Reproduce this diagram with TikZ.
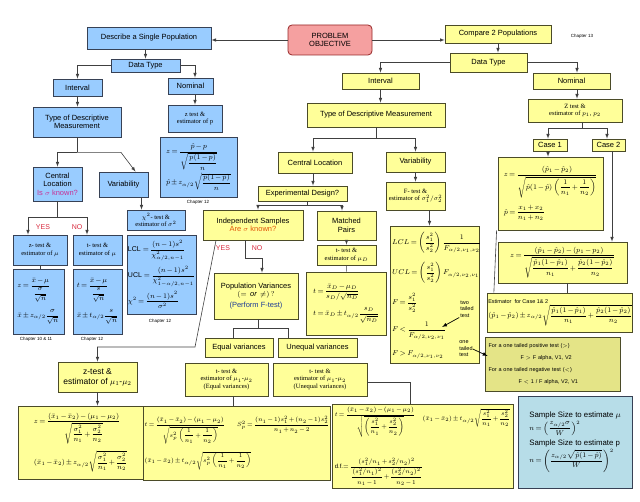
\documentclass[tikz,border=0pt]{standalone}
\usepackage{amsmath}
\usepackage{fontspec}
\setmainfont{Liberation Sans}
\newfontfamily\tms{Liberation Serif}
\medmuskip=2mu plus 1mu minus 1mu
\thickmuskip=3mu plus 2mu
\definecolor{bluefill}{RGB}{153,204,255}
\definecolor{blueline}{RGB}{55,65,85}
\definecolor{yelfill}{RGB}{255,255,153}
\definecolor{yelline}{RGB}{75,75,40}
\definecolor{pofill}{RGB}{245,160,160}
\definecolor{poline}{RGB}{150,40,40}
\definecolor{onefill}{RGB}{228,228,135}
\definecolor{ssfill}{RGB}{183,221,232}
\definecolor{pinkq}{RGB}{200,50,150}
\definecolor{orangeq}{RGB}{225,85,10}
\definecolor{yesno}{RGB}{215,40,60}
\definecolor{ftest}{RGB}{30,60,150}
\begin{document}
\begin{tikzpicture}[x=1pt,y=-1pt,>=latex,
  font=\fontsize{7.5}{8.5}\selectfont,
  sz/.style 2 args={minimum width=#1pt,minimum height=#2pt},
  blu/.style={draw=blueline,fill=bluefill,line width=0.8pt,align=center,inner sep=1pt},
  yel/.style={draw=yelline,fill=yelfill,line width=0.8pt,align=center,inner sep=1pt},
  sml/.style={font=\tms\fontsize{6.5}{7.5}\selectfont},
  fm/.style={font=\fontsize{7}{8}\selectfont},
  fs/.style={font=\fontsize{6}{7}\selectfont},
  fr/.style={anchor=west,inner sep=0pt,font=\tms\fontsize{7}{8}\selectfont},
  chap/.style={font=\fontsize{4.5}{5}\selectfont},
  yn/.style={text=yesno,font=\fontsize{7}{8}\selectfont},
  con/.style={draw=black!75,line width=0.6pt}]
\useasboundingbox (0,0) rectangle (640,502);

% top
\node[draw=poline,fill=pofill,line width=0.8pt,rounded corners=4pt,align=center,sz={84}{30}] (po) at (330,40) {PROBLEM\\OBJECTIVE};
\node[blu,sz={124}{22}] (desc) at (149,38) {Describe a Single Population};
\node[yel,sz={106}{18}] (cmp) at (498,34) {Compare 2 Populations};
\node[chap] (ch13) at (582,36) {Chapter 13};

% single population
\node[blu,sz={69}{13}] (dt1) at (145.5,65.5) {Data Type};
\node[blu,sz={49}{17}] (int1) at (77.5,87.5) {Interval};
\node[blu,sz={45}{16}] (nom1) at (190.5,86) {Nominal};
\node[blu,sz={88}{30}] (tdm1) at (77,122) {Type of Descriptive\\Measurement};
\node[blu,sml,sz={54}{27}] (zp) at (195,118.5) {z test \&\\estimator of p};
\node[blu,fm,sz={77}{60},align=left] (zpf) at (198.5,167) {$z=\dfrac{\hat p-p}{\sqrt{\dfrac{p(1-p)}{n}}}$\\[2pt]$\hat p\pm z_{\alpha/2}\sqrt{\dfrac{\hat p(1-\hat p)}{n}}$};
\node[chap] (ch12a) at (198,202) {Chapter 12};
\node[blu,sz={49}{34}] (cl1) at (57.5,184) {Central\\Location\\\textcolor{pinkq}{Is $\sigma$ known?}};
\node[blu,sz={49}{25}] (var1) at (123.5,184.5) {Variability};
\node[blu,sml,sz={58}{20}] (chi) at (156,220) {$\chi^2$- test \&\\estimator of $\sigma^2$};
\node[blu,fm,sz={69}{79},align=left] (chif) at (161.5,274.5) {LCL $=\dfrac{(n-1)s^2}{\chi^2_{\alpha/2,n-1}}$\\[4pt]UCL $=\dfrac{(n-1)s^2}{\chi^2_{1-\alpha/2,n-1}}$\\[4pt]$\chi^2=\dfrac{(n-1)s^2}{\sigma^2}$};
\node[chap] (ch12b) at (160,321) {Chapter 12};
\node[blu,sml,sz={54}{30}] (zm) at (40,250) {z- test \&\\estimator of $\mu$};
\node[blu,sml,sz={49}{30}] (tm) at (97.5,250) {t- test \&\\estimator of $\mu$};
\node[blu,fm,sz={51}{65},align=left] (zmf) at (38.5,301.5) {$z=\dfrac{\bar x-\mu}{\dfrac{\sigma}{\sqrt n}}$\\[6pt]$\bar x\pm z_{\alpha/2}\dfrac{\sigma}{\sqrt n}$};
\node[blu,fm,sz={49}{65},align=left] (tmf) at (97.5,301.5) {$t=\dfrac{\bar x-\mu}{\dfrac{s}{\sqrt n}}$\\[6pt]$\bar x\pm t_{\alpha/2}\dfrac{s}{\sqrt n}$};
\node[chap] (ch1011) at (36,339) {Chapter 10 \& 11};
\node[chap] (ch12c) at (92,339) {Chapter 12};

% two populations
\node[yel,sz={77}{19}] (dt2) at (488.5,62.5) {Data Type};
\node[yel,sz={77}{16}] (int2) at (380.5,81) {Interval};
\node[yel,sz={77}{16}] (nom2) at (571.5,81) {Nominal};
\node[yel,sml,sz={94}{23}] (ztp) at (575,110.5) {Z test \&\\estimator of $p_1$, $p_2$};
\node[yel,sz={138}{24}] (tdm2) at (376,115) {Type of Descriptive Measurement};
\node[yel,sz={74}{21}] (cl2) at (315,162.5) {Central Location};
\node[yel,sz={59}{20}] (var2) at (415.5,162) {Variability};
\node[yel,sml,sz={59}{28}] (ft) at (415.5,196) {F- test \&\\estimator of $\sigma_1^2/\sigma_2^2$};
\node[yel,sz={89}{15}] (exd) at (302.5,193.5) {Experimental Design?};
\node[yel,sz={100}{30}] (ind) at (253,225) {Independent Samples\\\textcolor{orangeq}{Are $\sigma$ known?}};
\node[yel,sz={59}{29}] (mp) at (346.5,225.5) {Matched\\Pairs};
\node[yel,sml,sz={59}{20}] (tmd) at (346.5,255) {t- test \&\\estimator of $\mu_D$};
\node[yel,fm,sz={80}{63},align=left] (tmdf) at (346,303.5) {$t=\dfrac{\bar x_D-\mu_D}{s_D/\sqrt{n_D}}$\\[6pt]$t=\bar x_D\pm t_{\alpha/2}\dfrac{s_D}{\sqrt{n_D}}$};
\node[yel,sz={84}{46}] (pv) at (256,296) {Population Variances\\$(=\ \mathit{or}\ \neq)\,?$\\[2pt]\textcolor{ftest}{(Perform F-test)}};
\node[yel,sz={68}{19}] (eqv) at (239,347.5) {Equal variances};
\node[yel,sz={79}{19}] (uneqv) at (317.5,347.5) {Unequal variances};
\node[yel,sml,sz={83}{33}] (teq) at (226.5,379.5) {t- test \&\\estimator of $\mu_1$-$\mu_2$\\(Equal variances)};
\node[yel,sml,sz={94}{33}] (tuneq) at (320,379.5) {t- test \&\\estimator of $\mu_1$-$\mu_2$\\(Unequal variances)};
\node[yel,sz={79}{30},font=\fontsize{8.5}{10}\selectfont] (zmu) at (97.5,377) {z-test \&\\estimator of $\mu_1$-$\mu_2$};
\node[yel,fm,sz={125}{73},align=left] (zmuf) at (80.5,442.5) {$z=\dfrac{(\bar x_1-\bar x_2)-(\mu_1-\mu_2)}{\sqrt{\dfrac{\sigma_1^2}{n_1}+\dfrac{\sigma_2^2}{n_2}}}$\\[6pt]$(\bar x_1-\bar x_2)\pm z_{\alpha/2}\sqrt{\dfrac{\sigma_1^2}{n_1}+\dfrac{\sigma_2^2}{n_2}}$};
\node[yel,fs,sz={182}{74},align=left] (teqf) at (237,443) {$t=\dfrac{(\bar x_1-\bar x_2)-(\mu_1-\mu_2)}{\sqrt{s_p^2\left(\dfrac{1}{n_1}+\dfrac{1}{n_2}\right)}}\qquad S_p^2=\dfrac{(n_1-1)s_1^2+(n_2-1)s_2^2}{n_1+n_2-2}$\\[6pt]$(\bar x_1-\bar x_2)\pm t_{\alpha/2}\sqrt{s_p^2\left(\dfrac{1}{n_1}+\dfrac{1}{n_2}\right)}$};
\node[yel,sz={181}{84}] (tuneqf) at (422.5,446) {};
\node[anchor=north west,fs,inner sep=1pt] (tuq1) at ([shift={(2pt,-2pt)}]tuneqf.north west) {$t=\dfrac{(\bar x_1-\bar x_2)-(\mu_1-\mu_2)}{\sqrt{\left(\dfrac{s_1^2}{n_1}+\dfrac{s_2^2}{n_2}\right)}}$};
\node[anchor=north east,fs,inner sep=1pt] (tuq2) at ([shift={(-2pt,-4pt)}]tuneqf.north east) {$(\bar x_1-\bar x_2)\pm t_{\alpha/2}\sqrt{\dfrac{s_1^2}{n_1}+\dfrac{s_2^2}{n_2}}$};
\node[anchor=south west,fs,inner sep=1pt] (tuq3) at ([shift={(2pt,2pt)}]tuneqf.south west) {d.f.$=\dfrac{(s_1^2/n_1+s_2^2/n_2)^2}{\dfrac{(s_1^2/n_1)^2}{n_1-1}+\dfrac{(s_2^2/n_2)^2}{n_2-1}}$};
\node[draw=blueline,fill=ssfill,line width=0.8pt,align=left,inner sep=2pt,sz={114}{92},font=\fontsize{7.8}{9}\selectfont] (ss) at (575,442) {Sample Size to estimate $\mu$\\[1pt]{\fontsize{7.5}{8}\selectfont$n=\left(\dfrac{z_{\alpha/2}\sigma}{W}\right)^{2}$}\\[3pt]Sample Size to estimate p\\[1pt]{\fontsize{7.5}{8}\selectfont$n=\left(\dfrac{z_{\alpha/2}\sqrt{\hat p(1-\hat p)}}{W}\right)^{2}$}};

% variances
\node[yel,sz={89}{137}] (ftf) at (434.5,294.5) {};
\node[fr] (fl1) at (392,243) {$LCL=\left(\dfrac{s_1^2}{s_2^2}\right)\dfrac{1}{F_{\alpha/2,\nu_1,\nu_2}}$};
\node[fr] (fl2) at (392,273) {$UCL=\left(\dfrac{s_1^2}{s_2^2}\right)F_{\alpha/2,\nu_2,\nu_1}$};
\node[fr] (fl3) at (392,303) {$F=\dfrac{s_1^2}{s_2^2}$};
\node[fr] (fl4) at (392,331) {$F<\dfrac{1}{F_{\alpha/2,\nu_2,\nu_1}}$};
\node[fr] (fl5) at (392,355) {$F>F_{\alpha/2,\nu_1,\nu_2}$};
\node[align=left,inner sep=0pt,font=\fontsize{5.5}{6.5}\selectfont] (tt2) at (467,309) {two\\tailed\\test};
\node[align=left,inner sep=0pt,font=\fontsize{5.5}{6.5}\selectfont] (tt1) at (466,349) {one\\tailed\\test};
\node[draw=yelline,fill=onefill,line width=0.8pt,sz={135}{54},text width=128pt,align=left,font=\fontsize{5.5}{12}\selectfont] (one) at (552.5,364) {For a one tailed positive test ($>$)\\\hspace*{32pt}F $>$ F alpha, V1, V2\\For a one tailed negative test ($<$)\\\hspace*{30pt}F $<$ 1 / F alpha, V2, V1};

% proportions
\node[yel,sz={34}{12}] (c1) at (550,145) {Case 1};
\node[yel,sz={33}{12}] (c2) at (608.5,145) {Case 2};
\node[yel,fm,sz={105}{73},align=left] (c1f) at (550.5,193.5) {$z=\dfrac{(\hat p_1-\hat p_2)}{\sqrt{\hat p(1-\hat p)\left(\dfrac{1}{n_1}+\dfrac{1}{n_2}\right)}}$\\[6pt]$\hat p=\dfrac{x_1+x_2}{n_1+n_2}$};
\node[yel,fm,sz={129}{41}] (c2f) at (562.5,262.5) {$z=\dfrac{(\hat p_1-\hat p_2)-(p_1-p_2)}{\sqrt{\dfrac{\hat p_1(1-\hat p_1)}{n_1}+\dfrac{\hat p_2(1-\hat p_2)}{n_2}}}$};
\node[yel,fm,sz={144}{39},align=left] (est) at (560,312.5) {{\fontsize{5.5}{6}\selectfont Estimator\ \ for Case 1\& 2}\\$(\hat p_1-\hat p_2)\pm z_{\alpha/2}\sqrt{\dfrac{\hat p_1(1-\hat p_1)}{n_1}+\dfrac{\hat p_2(1-\hat p_2)}{n_2}}$};

% links
\draw[con,->] (po.west) -- (po.west -| desc.east);
\draw[con,->] (po.east) -- (po.east -| cmp.west);
\draw[con,->] (desc.south -| dt1) -- (dt1);
\draw[con,->] (dt1.west) -| (int1);
\draw[con,->] (dt1.east) -| ([xshift=4.5pt]nom1.north);
\draw[con,->] (int1.south) -- (int1.south |- tdm1.north);
\draw[con,->] ([xshift=4.5pt]nom1.south) -- ([xshift=4.5pt]nom1.south |- zp.north);
\draw[con] (tdm1.south) -- ++(0,15) coordinate (j1);
\draw[con,->] (j1) -| (cl1);
\draw[con,->] (j1) -- ++(44,0) -- ([xshift=12pt]var1.north);
\draw[con] (cl1.south) -- ++(0,16) coordinate (j2);
\draw[con,->] (j2) -| ([xshift=-12pt]zm.north);
\draw[con,->] (j2) -| ([xshift=-10.5pt]tm.north);
\node[yn] (yes1) at (43,227) {YES};
\node[yn] (no1) at (77,227) {NO};
\draw[con,->] ([xshift=18pt]var1.south) -- ([xshift=18pt]var1.south |- chi.north);
\draw[con] (zm.south) -- (zm.south |- zmf.north);

\draw[con,->] (cmp.south) -- (cmp.south |- dt2.north);
\draw[con,->] (dt2.west) -| (int2);
\draw[con,->] (dt2.east) -| ([xshift=5.5pt]nom2.north);
\draw[con,->] (int2.south) -- (int2.south |- tdm2.north);
\draw[con,->] ([xshift=5.5pt]nom2.south) -- ([xshift=5.5pt]nom2.south |- ztp.north);
\draw[con] (tdm2.south) -- ++(0,11) coordinate (j3);
\draw[con,->] (j3) -| ([xshift=-2pt]cl2.north);
\draw[con,->] (j3) -| (var2);
\draw[con,->] ([xshift=-2pt]cl2.south) -- ([xshift=-2pt]cl2.south |- exd.north);
\draw[con,->] (var2) -- (ft);
\draw[con,->] ([xshift=14pt]ft.south) -- ([xshift=14pt]ft.south |- ftf.north);
\draw[con] ([xshift=4.5pt]exd.south) -- ++(0,4) coordinate (j4);
\draw[con,->] (j4) -| ([xshift=5pt]ind.north);
\draw[con,->] (j4) -| ([xshift=-4.5pt]mp.north);
\draw[con,->] (mp) -- (tmd);
\draw[con] (tmd) -- (tmdf);
\coordinate (yes2) at (195,347);
\draw[con,->] ([xshift=-37pt]ind.south) -- (yes2) -| (zmu);
\draw[con,->] ([xshift=-8pt]ind.south) -- ++(0,18) -| ([xshift=6pt]pv.north);
\node[yn] (yes3) at (223,248) {YES};
\node[yn] (no3) at (257,248) {NO};
\draw[con] ([xshift=2pt]pv.south) -- ++(0,9) coordinate (j6);
\draw[con] (j6) -| ([xshift=-6pt]eqv.north);
\draw[con] (j6) -| ([xshift=-29.5pt]uneqv.north);
\draw[con] ([xshift=6.5pt]teq.south) -- ([xshift=6.5pt]teq.south |- teqf.north);
\draw[con] ([yshift=-2.5pt]tuneq.east) -| ([xshift=-12.5pt]tuneqf.north);
\draw[con,->] (zmu.south) -- (zmu.south |- zmuf.north);

\coordinate (tt2to) at (442,327);
\draw[->,line width=0.7pt] ([xshift=-1pt]tt2.south west) -- (tt2to);
\draw[->,line width=0.7pt] (tt1.east) -- ([shift={(3pt,8pt)}]one.west);

\draw[con] ([xshift=7pt]ztp.south) -- ++(0,5.5) coordinate (j7);
\draw[con,->] (j7) -| ([xshift=-2pt]c1.north);
\draw[con,->] (j7) -| ([xshift=-1.5pt]c2.north);
\draw[con,->] ([xshift=-2pt]c1.south) -- ([xshift=-2pt]c1.south |- c1f.north);
\draw[con,->] ([xshift=3.5pt]c2.south) -- ([xshift=3.5pt]c2.south |- c2f.north);
\draw[con] ([xshift=-1pt]c1f.south west) -- ([xshift=7pt]est.north west);
\draw[con] ([xshift=4.5pt]c2f.south) -- ([xshift=4.5pt]c2f.south |- est.north);
\end{tikzpicture}
\end{document}
